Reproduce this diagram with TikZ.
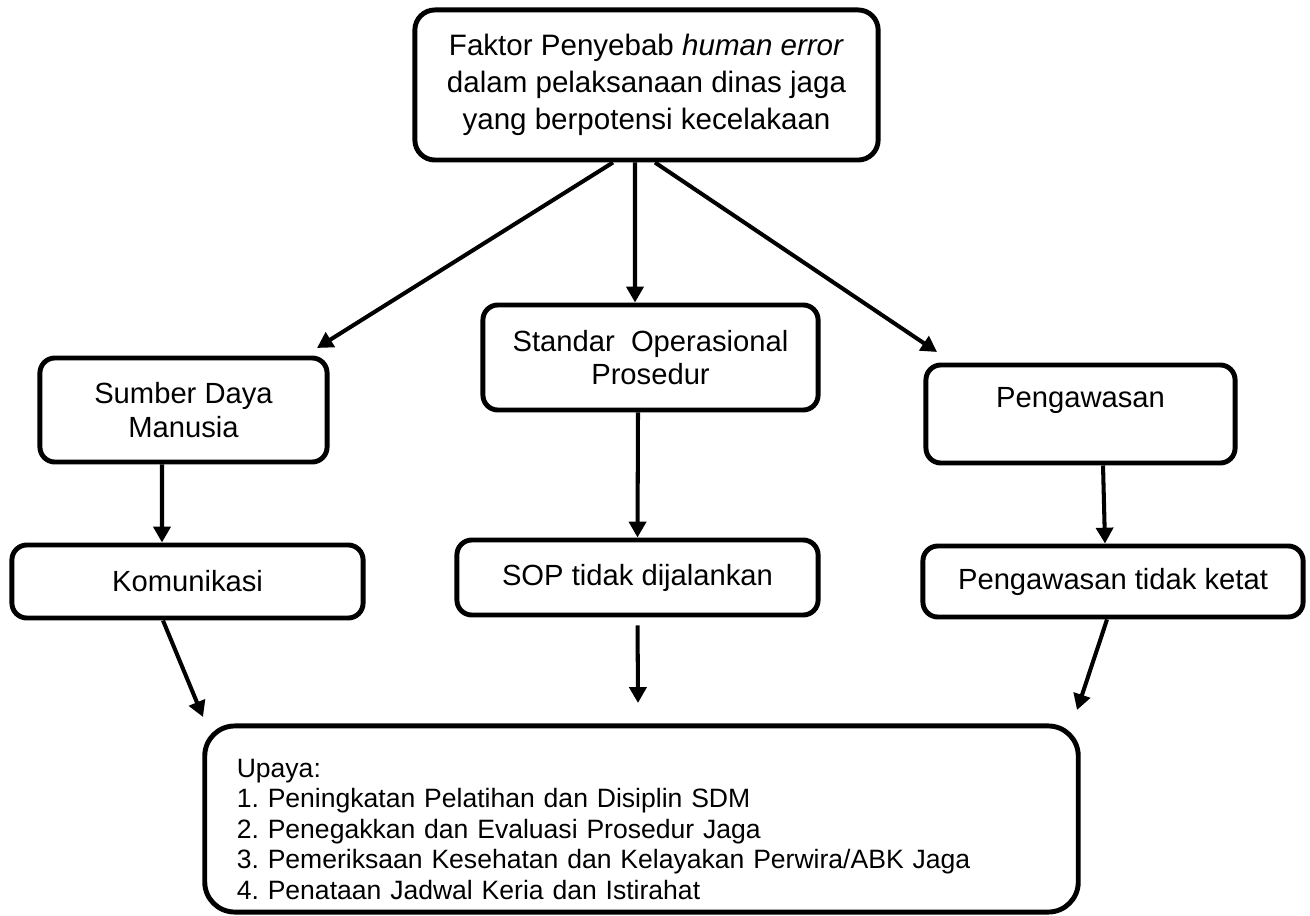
\documentclass[tikz,border=0pt]{standalone}
\usepackage{fontspec}
\setmainfont{Liberation Sans}
\usetikzlibrary{arrows.meta}
\frenchspacing

\tikzset{
  box/.style={draw=black, line width=1.4pt, rounded corners=0.15cm, align=center,
    inner sep=0pt, font=\fontsize{8.3}{9.6}\selectfont},
  arr/.style={line width=1.15pt, -{Triangle[length=4.5pt,width=4.8pt]}}
}

\begin{document}
\begin{tikzpicture}[x=0.01cm, y=-0.01cm]
    \useasboundingbox (0,0) rectangle (1310,916);

    % boxes
    \node[box, rounded corners=0.2cm, minimum width=4.63cm, minimum height=1.5cm,
      font=\fontsize{8.4}{10.5}\selectfont] (top) at (646.5,85)
      {Faktor Penyebab \textit{human error}\\dalam pelaksanaan dinas jaga\\yang berpotensi kecelakaan};
    \node[box, minimum width=2.87cm, minimum height=1.04cm] (sdm) at (183.5,410) {Sumber Daya\\Manusia};
    \node[box, minimum width=3.35cm, minimum height=1.05cm] (sop) at (650.5,357.5) {Standar\ \ Operasional\\Prosedur};
    \node[box, minimum width=3.09cm, minimum height=0.98cm] (awas) at (1080.5,414) {Pengawasan\\\mbox{}};
    \node[box, minimum width=3.51cm, minimum height=0.73cm] (kom) at (187.5,581.5) {Komunikasi};
    \node[box, minimum width=3.61cm, minimum height=0.75cm] (sopx) at (637.5,577.5) {SOP tidak dijalankan};
    \node[box, minimum width=3.80cm, minimum height=0.71cm] (awasx) at (1113,581.5) {Pengawasan tidak ketat};
    \node[box, rounded corners=0.3cm, align=left, text width=8.09cm, inner xsep=0.32cm,
      minimum height=1.86cm, font=\fontsize{7.55}{8.7}\selectfont] (upaya) at (641.5,819)
      {\rule{0pt}{11pt}Upaya:\\
       1. Peningkatan Pelatihan dan Disiplin SDM\\
       2. Penegakkan dan Evaluasi Prosedur Jaga\\
       3. Pemeriksaan Kesehatan dan Kelayakan Perwira/ABK Jaga\\
       4. Penataan Jadwal Keria dan Istirahat};

    % free arrow ends
    \coordinate (sdmin) at (317,348);
    \coordinate (awasin) at (937,352);
    \coordinate (komout) at (203,717);
    \coordinate (sopout) at (638,703);
    \coordinate (awasout) at (1077,710);

    % arrows
    \draw[arr] ([xshift=-0.335cm]top.south) -- (sdmin);
    \draw[arr] ([xshift=-0.115cm]top.south) -- ([xshift=-0.155cm]sop.north);
    \draw[arr] ([xshift=0.085cm]top.south) -- (awasin);
    \draw[arr] ([xshift=-0.215cm]sdm.south) -- ([xshift=-0.255cm]kom.north);
    \draw[arr] ([xshift=-0.125cm]sop.south) -- (sopx.north);
    \draw[arr] ([xshift=0.225cm]awas.south) -- ([xshift=-0.08cm]awasx.north);
    \draw[arr] ([xshift=-0.245cm]kom.south) -- (komout);
    \draw[arr, shorten <=0.08cm] (sopx.south) -- (sopout);
    \draw[arr] ([xshift=-0.06cm]awasx.south) -- (awasout);
\end{tikzpicture}
\end{document}
